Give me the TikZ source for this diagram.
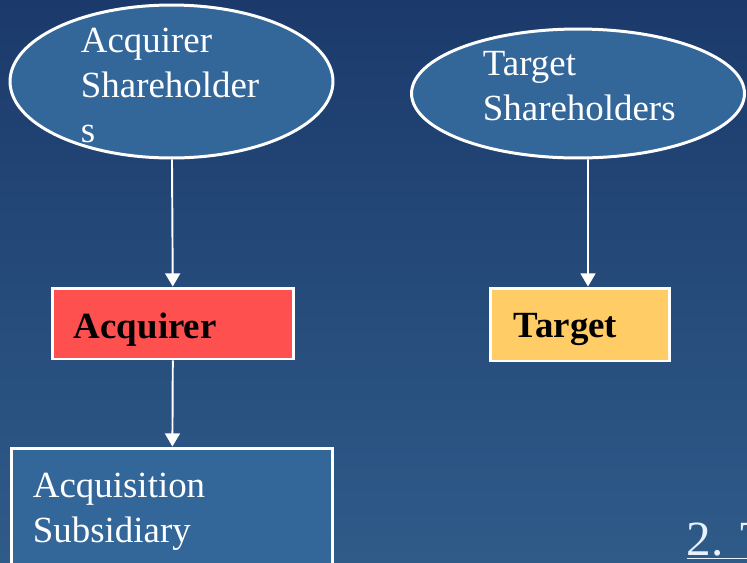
\documentclass[tikz,border=0pt]{standalone}
\usepackage{fontspec}
\setmainfont{Liberation Serif}
\usepackage{tikz}
\usetikzlibrary{arrows.meta,shapes.geometric,positioning}

\definecolor{bgtop}{HTML}{1B3A6B}
\definecolor{bgbot}{HTML}{2F5B89}
\definecolor{boxblue}{HTML}{336699}
\definecolor{acqred}{HTML}{FF5050}
\definecolor{tgtyellow}{HTML}{FFCC66}
\definecolor{notewhite}{HTML}{E6F2FF}

\begin{document}
\begin{tikzpicture}[x=0.02cm,y=-0.02cm,->,>={Triangle[width=8.5pt,length=7.5pt]},white,line width=1.1pt]
		\tikzstyle{party}=[ellipse,draw=white,line width=1.7pt,fill=boxblue,inner sep=0pt]
		\tikzstyle{firm}=[rectangle,draw=white,line width=1.7pt,inner sep=0pt]
		\tikzstyle{txt}=[text=white,align=left,inner sep=0pt,anchor=base west,font=\fontsize{21}{25.5}\selectfont]
		\tikzstyle{boldtxt}=[txt,text=black,font=\fontsize{21}{25.5}\selectfont\bfseries]

		\clip (0,0) rectangle (747,562);
		\shade[top color=bgtop,bottom color=bgbot] (0,0) rectangle (747,562);

		\node[party,minimum width=6.46cm,minimum height=3.06cm] (AS) at (171.5,81.5) {};
		\node[party,minimum width=6.66cm,minimum height=2.58cm] (TS) at (578,93.5) {};
		\node[firm,fill=acqred,minimum width=4.84cm,minimum height=1.42cm] (AC) at (173,323.5) {};
		\node[firm,fill=tgtyellow,minimum width=3.6cm,minimum height=1.46cm] (TG) at (580,324.5) {};
		\node[firm,fill=boxblue,minimum width=6.44cm,minimum height=3.04cm] (SUB) at (172,524) {};

		% base anchor sits on the last line
		\node[txt] (ASt) at (80,142) {Acquirer\\Shareholder\\s};
		\node[txt] (TSt) at (482,120) {Target\\Shareholders};
		\node[boldtxt] (ACt) at (73,338) {Acquirer};
		\node[boldtxt] (TGt) at (513,337) {Target};
		\node[txt] (SUBt) at (32,542) {Acquisition\\Subsidiary};
		\node[txt,text=notewhite,font=\fontsize{28}{34}\selectfont] (NT) at (686,555) {\underline{2. T}};

		\path (AS) edge (AC);
		\path (AC) edge (SUB);
		\path ([xshift=0.2cm]TS.south) edge ([xshift=0.16cm]TG.north);
	\end{tikzpicture}
\end{document}
